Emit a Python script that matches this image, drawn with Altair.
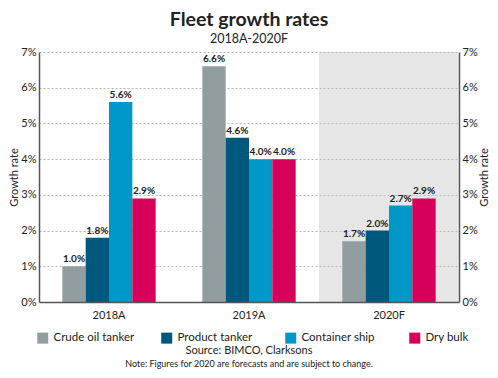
import altair as alt
import pandas as pd

years = ["2018A", "2019A", "2020F"]
series = ["Crude oil tanker", "Product tanker", "Container ship", "Dry bulk"]
crude = [1.0, 6.6, 1.7]
product = [1.8, 4.6, 2.0]
container = [5.6, 4.0, 2.7]
dry = [2.9, 4.0, 2.9]
colors = ["#929D9F", "#00587C", "#0097C9", "#D6005B"]
y_ticks = [0.0, 0.01, 0.02, 0.03, 0.04, 0.05, 0.06, 0.07]
forecast = ["2020F"]
source_text = ["Source: BIMCO, Clarksons"]
note_text = ["Note: Figures for 2020 are forecasts and are subject to change."]

rows = []
for s, vals in zip(series, [crude, product, container, dry]):
    for yr, v in zip(years, vals):
        rows.append({"Year": yr, "Series": s, "Value": v / 100, "Label": f"{v:.1f}%"})
df = pd.DataFrame(rows)

W, H = 420, 250
FONT = "Lato"
TXT = "#222222"

x_enc = alt.X(
    "Year:N", sort=years,
    scale=alt.Scale(domain=years, paddingInner=0, paddingOuter=0),
    axis=alt.Axis(title=None, labelAngle=0, ticks=False, domainColor="#555555",
                  domainWidth=1.5, labelFontSize=11, labelPadding=7, labelColor=TXT,
                  labelFont=FONT),
)
yscale = alt.Scale(domain=[0, 0.07], nice=False, zero=True)
off_scale = alt.Scale(domain=series, paddingInner=0, paddingOuter=1)

left_axis = alt.Axis(title="Growth rate", values=y_ticks, format=".0%",
                     grid=True, gridDash=[2, 2], gridColor="#b5b5b5", gridWidth=1,
                     domainColor="#555555", domainWidth=1.5, ticks=False,
                     labelPadding=3, labelFontSize=11, labelColor=TXT, labelFont=FONT,
                     titleFont=FONT, titleFontSize=11, titleFontWeight="normal",
                     titleColor=TXT, titlePadding=1)

bg = alt.Chart(pd.DataFrame({"Year": forecast})).mark_rect(
    color="#c8c8c8", opacity=0.45
).encode(x=x_enc, y=alt.value(0), y2=alt.value(H))

bars = alt.Chart(df).mark_bar().encode(
    x=x_enc,
    xOffset=alt.XOffset("Series:N", sort=series, scale=off_scale),
    y=alt.Y("Value:Q", scale=yscale, axis=left_axis),
    color=alt.Color("Series:N", sort=series,
                    scale=alt.Scale(domain=series, range=colors),
                    legend=alt.Legend(orient="none", legendX=-2, legendY=280,
                                      direction="horizontal", columns=4, title=None,
                                      symbolType="square", symbolSize=121,
                                      symbolStrokeWidth=0, labelFontSize=11.5,
                                      labelFont=FONT, labelColor=TXT, labelOffset=5,
                                      gridAlign="all", columnPadding=26)),
)

labels = alt.Chart(df).mark_text(
    baseline="bottom", dy=-2, fontSize=10, fontWeight="bold", font=FONT, color=TXT
).encode(
    x=x_enc,
    xOffset=alt.XOffset("Series:N", sort=series, scale=off_scale),
    y=alt.Y("Value:Q", scale=yscale, axis=left_axis),
    text="Label:N",
)

src = alt.Chart(pd.DataFrame({"t": source_text})).mark_text(
    fontSize=11, font=FONT, color=TXT, baseline="middle"
).encode(x=alt.value(W / 2), y=alt.value(299), text="t:N")

note = alt.Chart(pd.DataFrame({"t": note_text})).mark_text(
    fontSize=9, font=FONT, color=TXT, baseline="middle"
).encode(x=alt.value(W / 2), y=alt.value(312), text="t:N")

inner = alt.layer(bg, bars, labels, src, note)

right = alt.Chart(df).mark_point(opacity=0).encode(
    y=alt.Y("Value:Q", scale=yscale,
            axis=alt.Axis(orient="right", title="Growth rate", values=y_ticks,
                          format=".0%", grid=False, domainColor="#555555",
                          domainWidth=1.5, ticks=False,
                          labelPadding=3, labelFontSize=11, labelColor=TXT,
                          labelFont=FONT, titleFont=FONT, titleFontSize=11,
                          titleFontWeight="normal", titleColor=TXT, titlePadding=1,
                          titleAngle=270, titleBaseline="top")),
)

chart = alt.layer(inner, right).resolve_scale(y="independent").properties(
    width=W, height=H,
    title=alt.TitleParams("Fleet growth rates", subtitle="2018A-2020F", font=FONT,
                          fontSize=19.5, fontWeight="bold", color=TXT,
                          subtitleFont=FONT, subtitleFontSize=12.5, subtitleColor=TXT,
                          anchor="middle", offset=0, subtitlePadding=2),
    autosize=alt.AutoSizeParams(type="none"),
    padding={"left": 31, "top": 44, "right": 31, "bottom": 68},
).configure_view(stroke=None)

chart.save("out.html", embed_options={"renderer": "svg", "actions": False})
